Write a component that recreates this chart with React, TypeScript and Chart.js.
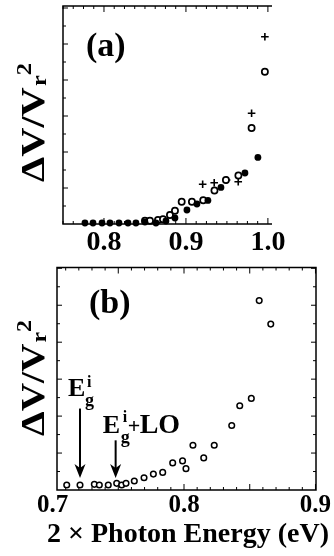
import React, { useEffect, useRef } from "react";
import { Chart, registerables } from "chart.js";

Chart.register(...registerables);

// ---------- Panel (a) data ----------
const aFilledX = [0.7768, 0.7866, 0.7976, 0.8073, 0.8183, 0.8293, 0.839, 0.85, 0.8634, 0.8756, 0.8866, 0.9012, 0.9134, 0.9268, 0.9427, 0.972, 0.9878];
const aFilledY = [0.05, 0.05, 0.05, 0.05, 0.05, 0.05, 0.05, 0.1, 0.05, 0.15, 0.3, 0.7, 1.0, 1.18, 1.83, 2.55, 3.33];
const aOpenX = [0.85, 0.8561, 0.8659, 0.872, 0.8805, 0.8866, 0.8948, 0.9073, 0.9211, 0.9348, 0.9488, 0.964, 0.9801, 0.9963];
const aOpenY = [0.165, 0.165, 0.2, 0.235, 0.45, 0.665, 1.115, 1.115, 1.185, 1.675, 2.2, 2.425, 4.8, 7.615];
const aPlusX = [0.9204, 0.9345, 0.9496, 0.9638, 0.9801, 0.9963];
const aPlusY = [1.985, 2.065, 2.2, 2.115, 5.535, 9.365];
const aTickValues = [0.8, 0.9, 1.0];
const aTickLabels = ["0.8", "0.9", "1.0"];

// ---------- Panel (b) data ----------
const bX = [0.7108, 0.7209, 0.7318, 0.7356, 0.7424, 0.7488, 0.7526, 0.7559, 0.7622, 0.7696, 0.7767, 0.7838, 0.7914, 0.7989, 0.8015, 0.8068, 0.815, 0.823, 0.8363, 0.8424, 0.8512, 0.8572, 0.866];
const bY = [0.25, 0.25, 0.285, 0.25, 0.25, 0.335, 0.25, 0.335, 0.45, 0.615, 0.8, 0.885, 1.365, 1.465, 1.075, 2.25, 1.615, 2.25, 3.25, 4.24, 4.61, 9.535, 8.35];
const bTickValues = [0.7, 0.8, 0.9];
const bTickLabels = ["0.7", "0.8", "0.9"];
// arrows: x position, top (data y), tip (data y)
const bArrowX = [0.7209, 0.748];
const bArrowTop = [4.1, 2.5];
const bArrowTip = [0.6, 0.6];

const FONT = '"Liberation Serif", "Times New Roman", serif';

function rangeStep(a: number, b: number, s: number) {
  const out: number[] = [];
  for (let v = a; v <= b + 1e-9; v += s) out.push(v);
  return out;
}

function drawYTitle(ctx: CanvasRenderingContext2D, xBase: number, yStart: number, size: number, targetLen: number) {
  ctx.save();
  ctx.translate(xBase, yStart);
  ctx.rotate(-Math.PI / 2);
  ctx.fillStyle = "#000";
  ctx.textAlign = "left";
  ctx.textBaseline = "alphabetic";
  const small = Math.round(size * 0.6);
  ctx.font = `bold ${size}px ${FONT}`;
  const w = ctx.measureText("ΔV/V").width;
  ctx.font = `bold ${small}px ${FONT}`;
  const wr = ctx.measureText("r").width;
  const w2 = ctx.measureText("2").width;
  const total = w + 1 + wr + w2;
  ctx.scale(targetLen / total, 1);
  ctx.font = `bold ${size}px ${FONT}`;
  ctx.fillText("ΔV/V", 0, 0);
  ctx.font = `bold ${small}px ${FONT}`;
  ctx.fillText("r", w + 1, 2);
  ctx.fillText("2", w + 1 + wr, -size * 0.38);
  ctx.restore();
}

function drawArrow(ctx: CanvasRenderingContext2D, x: number, y0: number, y1: number) {
  ctx.save();
  ctx.strokeStyle = "#000";
  ctx.fillStyle = "#000";
  ctx.lineWidth = 2;
  ctx.beginPath();
  ctx.moveTo(x, y0);
  ctx.lineTo(x, y1 - 10);
  ctx.stroke();
  ctx.beginPath();
  ctx.moveTo(x - 5.5, y1 - 14);
  ctx.lineTo(x, y1 - 10);
  ctx.lineTo(x + 5.5, y1 - 14);
  ctx.lineTo(x, y1);
  ctx.closePath();
  ctx.fill();
  ctx.restore();
}

const panelAPlugin = {
  id: "panelA",
  beforeDatasetsDraw(chart: any) {
    const { ctx, chartArea: ca, scales } = chart;
    const xs = scales.x, ys = scales.y;
    ctx.save();
    ctx.strokeStyle = "#000";
    ctx.lineWidth = 1.5;
    ctx.beginPath();
    ctx.moveTo(ca.right, ca.top);
    ctx.lineTo(ca.left, ca.top);
    ctx.lineTo(ca.left, ca.bottom);
    ctx.lineTo(ca.right, ca.bottom);
    ctx.stroke();
    ctx.lineWidth = 1;
    rangeStep(0.75, 1.005, 0.0125).forEach((v) => {
      const px = xs.getPixelForValue(v);
      const len = Math.abs(v * 10 - Math.round(v * 10)) < 1e-6 ? 6 : 3;
      ctx.beginPath();
      ctx.moveTo(px, ca.bottom);
      ctx.lineTo(px, ca.bottom - len);
      ctx.moveTo(px, ca.top);
      ctx.lineTo(px, ca.top + len);
      ctx.stroke();
    });
    rangeStep(0.9, 10.9, 0.9).forEach((v, i) => {
      const py = ys.getPixelForValue(v);
      const len = i % 2 === 1 ? 5 : 3;
      ctx.beginPath();
      ctx.moveTo(ca.left, py);
      ctx.lineTo(ca.left + len, py);
      ctx.stroke();
    });
    ctx.restore();
  },
  afterDraw(chart: any) {
    const { ctx, scales } = chart;
    const xs = scales.x;
    ctx.save();
    ctx.fillStyle = "#000";
    ctx.font = `bold 28px ${FONT}`;
    ctx.textAlign = "center";
    ctx.textBaseline = "alphabetic";
    aTickValues.forEach((v, i) => {
      ctx.fillText(aTickLabels[i], xs.getPixelForValue(v), 250);
    });
    ctx.textAlign = "left";
    ctx.font = `bold 34px ${FONT}`;
    ctx.fillText("(a)", 86, 56);
    ctx.restore();
    drawYTitle(ctx, 44, 182, 33, 119);
  },
};

const panelBPlugin = {
  id: "panelB",
  beforeDatasetsDraw(chart: any) {
    const { ctx, chartArea: ca, scales } = chart;
    const xs = scales.x, ys = scales.y;
    ctx.save();
    ctx.strokeStyle = "#000";
    ctx.lineWidth = 1.5;
    ctx.strokeRect(ca.left, ca.top, ca.right - ca.left, ca.bottom - ca.top);
    ctx.lineWidth = 1;
    rangeStep(0.71, 0.9, 0.01).forEach((v) => {
      const px = xs.getPixelForValue(v);
      const len = Math.abs(v * 20 - Math.round(v * 20)) < 1e-6 ? 6 : 3;
      ctx.beginPath();
      ctx.moveTo(px, ca.bottom);
      ctx.lineTo(px, ca.bottom - len);
      ctx.moveTo(px, ca.top);
      ctx.lineTo(px, ca.top + len);
      ctx.stroke();
    });
    rangeStep(0.93, 11.2, 0.93).forEach((v, i) => {
      const py = ys.getPixelForValue(v);
      const len = i % 2 === 1 ? 5 : 3;
      ctx.beginPath();
      ctx.moveTo(ca.left, py);
      ctx.lineTo(ca.left + len, py);
      ctx.moveTo(ca.right, py);
      ctx.lineTo(ca.right - len, py);
      ctx.stroke();
    });
    ctx.restore();
  },
  afterDraw(chart: any) {
    const { ctx, scales } = chart;
    const xs = scales.x, ys = scales.y;
    ctx.save();
    ctx.fillStyle = "#000";
    ctx.font = `bold 25px ${FONT}`;
    ctx.textAlign = "center";
    ctx.textBaseline = "alphabetic";
    bTickValues.forEach((v, i) => {
      ctx.fillText(bTickLabels[i], xs.getPixelForValue(v), 250);
    });
    ctx.font = `bold 28px ${FONT}`;
    ctx.fillText("2 × Photon Energy (eV)", 188, 280);
    ctx.textAlign = "left";
    ctx.font = `bold 34px ${FONT}`;
    ctx.fillText("(b)", 89, 51);

    const ax = bArrowX.map((v) => xs.getPixelForValue(v));
    const at = bArrowTop.map((v) => ys.getPixelForValue(v));
    const ap = bArrowTip.map((v) => ys.getPixelForValue(v));
    ax.forEach((x, i) => drawArrow(ctx, x, at[i], ap[i]));

    // E_g^i
    let l = ax[0] - 12, b = at[0] - 13;
    ctx.font = `bold 26px ${FONT}`;
    ctx.fillText("E", l, b);
    ctx.font = `bold 18px ${FONT}`;
    ctx.fillText("g", l + 17, b + 10);
    ctx.font = `bold 16px ${FONT}`;
    ctx.fillText("i", l + 19, b - 9);

    // E_g^i + LO
    l = ax[1] - 13; b = at[1] - 7;
    ctx.font = `bold 26px ${FONT}`;
    ctx.fillText("E", l, b);
    ctx.font = `bold 18px ${FONT}`;
    ctx.fillText("g", l + 18, b + 10);
    ctx.font = `bold 16px ${FONT}`;
    ctx.fillText("i", l + 20, b - 11);
    ctx.font = `bold 22px ${FONT}`;
    ctx.fillText("+", l + 25, b);
    ctx.font = `bold 28px ${FONT}`;
    ctx.fillText("LO", l + 37, b);
    ctx.restore();

    drawYTitle(ctx, 44, 436 - 262, 33, 116);
  },
};

function pts(xs: number[], ys: number[]) {
  return xs.map((x, i) => ({ x, y: ys[i] }));
}

export default function App() {
  const refA = useRef<HTMLCanvasElement>(null);
  const refB = useRef<HTMLCanvasElement>(null);

  useEffect(() => {
    const common = {
      animation: false as const,
      responsive: false,
      plugins: { legend: { display: false }, tooltip: { enabled: false } },
      events: [] as any[],
    };
    const chartA = new Chart(refA.current!, {
      type: "scatter",
      data: {
        datasets: [
          {
            data: pts(aFilledX, aFilledY),
            pointStyle: "circle",
            pointRadius: 3.4,
            backgroundColor: "#000",
            borderColor: "#000",
            borderWidth: 0,
            clip: false,
          } as any,
          {
            data: pts(aOpenX, aOpenY),
            pointStyle: "circle",
            pointRadius: 3.1,
            backgroundColor: "#fff",
            borderColor: "#000",
            borderWidth: 1.7,
            clip: false,
          },
          {
            data: pts(aPlusX, aPlusY),
            pointStyle: "cross",
            pointRadius: 3.8,
            borderColor: "#000",
            borderWidth: 1.6,
            clip: false,
          },
        ],
      },
      options: {
        ...common,
        layout: { padding: { left: 63, top: 6, right: 62, bottom: 38 } },
        scales: {
          x: { type: "linear", min: 0.75, max: 1.005, display: false },
          y: { type: "linear", min: 0, max: 10.9, display: false },
        },
      },
      plugins: [panelAPlugin],
    });

    const chartB = new Chart(refB.current!, {
      type: "scatter",
      data: {
        datasets: [
          {
            data: pts(bX, bY),
            pointStyle: "circle",
            pointRadius: 2.8,
            backgroundColor: "#fff",
            borderColor: "#000",
            borderWidth: 1.5,
            clip: false,
          } as any,
        ],
      },
      options: {
        ...common,
        layout: { padding: { left: 57, top: 4, right: 18, bottom: 66 } },
        scales: {
          x: { type: "linear", min: 0.7034, max: 0.9004, display: false },
          y: { type: "linear", min: 0, max: 11.2, display: false },
        },
      },
      plugins: [panelBPlugin],
    });

    return () => {
      chartA.destroy();
      chartB.destroy();
    };
  }, []);

  return (
    <div style={{ position: "absolute", left: 0, top: 0, width: 334, height: 556, background: "#fff" }}>
      <canvas ref={refA} width={334} height={262} style={{ position: "absolute", left: 0, top: 0 }} />
      <canvas ref={refB} width={334} height={294} style={{ position: "absolute", left: 0, top: 262 }} />
    </div>
  );
}
